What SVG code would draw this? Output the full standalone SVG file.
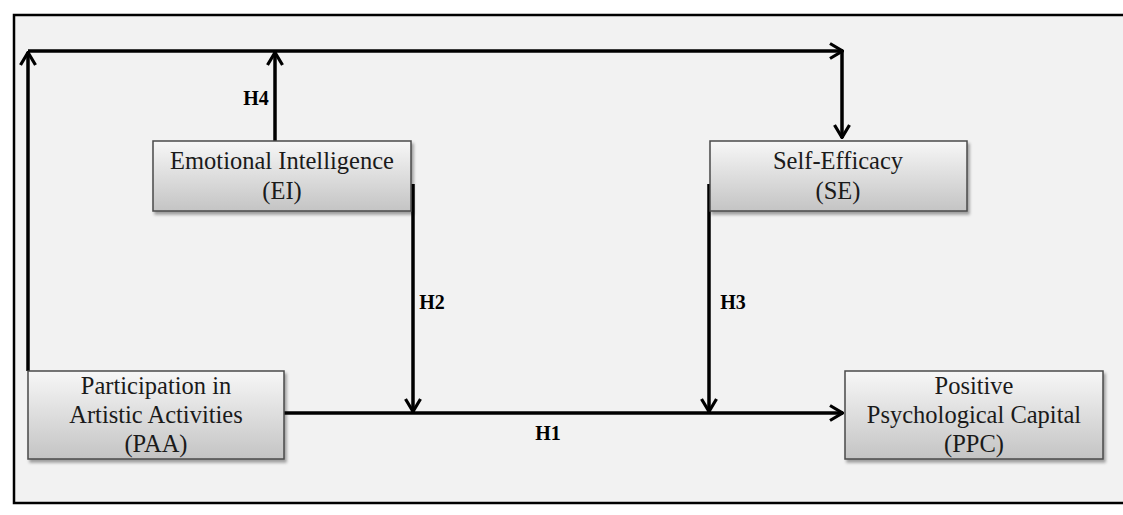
<svg xmlns="http://www.w3.org/2000/svg" width="1123" height="515" viewBox="0 0 1123 515">
  <defs>
    <linearGradient id="boxGrad" x1="0" y1="0" x2="0" y2="1">
      <stop offset="0" stop-color="#f7f7f7"/>
      <stop offset="1" stop-color="#c4c4c4"/>
    </linearGradient>
    <filter id="shadow" x="-5%" y="-10%" width="115%" height="130%">
      <feDropShadow dx="2" dy="3" stdDeviation="1.5" flood-color="#000" flood-opacity="0.35"/>
    </filter>
    <marker id="arrow" viewBox="0 0 16 18" refX="15" refY="9" markerWidth="16" markerHeight="18" markerUnits="userSpaceOnUse" orient="auto">
      <path d="M2,1.5 L14.5,9 L2,16.5" fill="none" stroke="#000" stroke-width="3.2" stroke-linejoin="miter"/>
    </marker>
    <style>
      .box { fill: url(#boxGrad); stroke: #4a4a4a; stroke-width: 1.5; filter: url(#shadow); }
      .lbl { font-family: "Liberation Serif", "Times New Roman", serif; font-size: 24.5px; fill: #1a1a1a; text-anchor: middle; }
      .hyp { font-family: "Liberation Serif", "Times New Roman", serif; font-size: 20px; font-weight: bold; fill: #000; text-anchor: middle; }
      .conn { fill: none; stroke: #000; stroke-width: 3.5; }
    </style>
  </defs>

  <rect x="0" y="0" width="1123" height="515" fill="#ffffff"/>
  <rect x="14" y="15" width="1120" height="488" fill="#f2f2f2" stroke="#000" stroke-width="2.5"/>

  <g id="connectors">
    <path class="conn" d="M28,371 L28,52" marker-end="url(#arrow)"/>
    <path class="conn" d="M275,141 L275,52" marker-end="url(#arrow)"/>
    <path class="conn" d="M28,51 L843,51" marker-end="url(#arrow)"/>
    <path class="conn" d="M842,51 L842,138" marker-end="url(#arrow)"/>
    <path class="conn" d="M413,184 L413,412" marker-end="url(#arrow)"/>
    <path class="conn" d="M709,184 L709,412" marker-end="url(#arrow)"/>
    <path class="conn" d="M284,413 L843,413" marker-end="url(#arrow)"/>
    <text class="hyp" x="256" y="105">H4</text>
    <text class="hyp" x="432" y="309">H2</text>
    <text class="hyp" x="733" y="309">H3</text>
    <text class="hyp" x="548" y="440">H1</text>
  </g>

  <g id="ei">
    <rect class="box" x="153" y="141" width="258" height="70"/>
    <text class="lbl" x="282" y="169">Emotional Intelligence</text>
    <text class="lbl" x="282" y="199">(EI)</text>
  </g>

  <g id="se">
    <rect class="box" x="710" y="141" width="257" height="70"/>
    <text class="lbl" x="838" y="169">Self-Efficacy</text>
    <text class="lbl" x="838" y="199">(SE)</text>
  </g>

  <g id="paa">
    <rect class="box" x="28" y="371" width="256" height="88"/>
    <text class="lbl" x="156" y="394">Participation in</text>
    <text class="lbl" x="156" y="423">Artistic Activities</text>
    <text class="lbl" x="156" y="452">(PAA)</text>
  </g>

  <g id="ppc">
    <rect class="box" x="845" y="371" width="258" height="88"/>
    <text class="lbl" x="974" y="394">Positive</text>
    <text class="lbl" x="974" y="423">Psychological Capital</text>
    <text class="lbl" x="974" y="452">(PPC)</text>
  </g>
</svg>
